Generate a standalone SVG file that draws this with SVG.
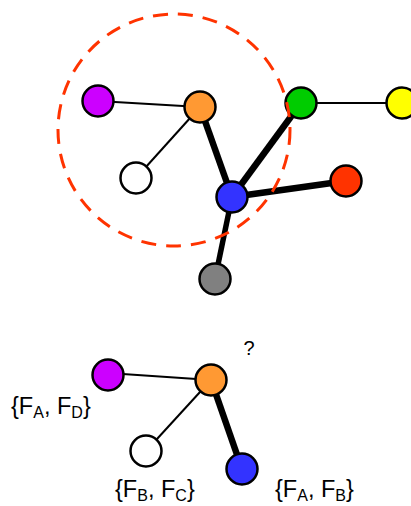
<svg xmlns="http://www.w3.org/2000/svg" width="411" height="506" viewBox="0 0 411 506">
<style>
.n{stroke:#000;stroke-width:2.5}
.thin{stroke:#000;stroke-width:2;fill:none}
.thick{stroke:#000;stroke-width:6.5;fill:none}
.lbl{font-family:"Liberation Sans",Arial,sans-serif;font-size:23.5px;fill:#000}
.sub{font-size:16px}
</style>
<rect width="411" height="506" fill="#fff"/>
<g id="connectors">
<line class="thin" x1="98" y1="101" x2="200" y2="107"/>
<line class="thin" x1="200" y1="107" x2="136" y2="178"/>
<line class="thick" x1="200" y1="107" x2="232" y2="197"/>
<line class="thick" x1="232" y1="197" x2="301" y2="103"/>
<line class="thick" x1="232" y1="197" x2="346" y2="181"/>
<line class="thick" x1="232" y1="197" x2="215" y2="279" style="stroke-width:5.5"/>
<line class="thin" x1="301" y1="103" x2="402" y2="103"/>
<line class="thin" x1="108" y1="373" x2="211" y2="380"/>
<line class="thin" x1="211" y1="380" x2="146" y2="451"/>
<line class="thick" x1="211" y1="380" x2="242" y2="469"/>
</g>
<g id="purple"><circle class="n" cx="98" cy="101" r="15.5" fill="#cc00ff"/></g>
<g id="orange"><circle class="n" cx="200" cy="107" r="15.5" fill="#ff9933"/></g>
<g id="green"><circle class="n" cx="301" cy="103" r="15.5" fill="#00cc00"/></g>
<g id="yellow"><circle class="n" cx="402" cy="103" r="15.5" fill="#ffff00"/></g>
<g id="white"><circle class="n" cx="136" cy="178" r="15.5" fill="#fff"/></g>
<g id="blue"><circle class="n" cx="232" cy="197" r="15.5" fill="#3333ff"/></g>
<g id="red"><circle class="n" cx="346" cy="181" r="15.5" fill="#ff3300"/></g>
<g id="gray"><circle class="n" cx="215" cy="279" r="15.5" fill="#808080"/></g>
<g id="region"><circle cx="174" cy="130" r="116" fill="none" stroke="#ff3300" stroke-width="3" stroke-dasharray="15 10"/></g>
<g id="purple2"><circle class="n" cx="108" cy="375" r="15.5" fill="#cc00ff"/>
<text class="lbl" x="11" y="414">{F<tspan class="sub" dy="4">A</tspan><tspan dy="-4">, F</tspan><tspan class="sub" dy="4">D</tspan><tspan dy="-4">}</tspan></text></g>
<g id="orange2"><circle class="n" cx="211" cy="380" r="15.5" fill="#ff9933"/>
<text x="249" y="355" text-anchor="middle" style="font-family:'Liberation Sans',Arial,sans-serif;font-size:20px">?</text></g>
<g id="white2"><circle class="n" cx="146" cy="451" r="15.5" fill="#fff"/>
<text class="lbl" x="115" y="497">{F<tspan class="sub" dy="4">B</tspan><tspan dy="-4">, F</tspan><tspan class="sub" dy="4">C</tspan><tspan dy="-4">}</tspan></text></g>
<g id="blue2"><circle class="n" cx="242" cy="469" r="15.5" fill="#3333ff"/>
<text class="lbl" x="275" y="497">{F<tspan class="sub" dy="4">A</tspan><tspan dy="-4">, F</tspan><tspan class="sub" dy="4">B</tspan><tspan dy="-4">}</tspan></text></g>
</svg>
